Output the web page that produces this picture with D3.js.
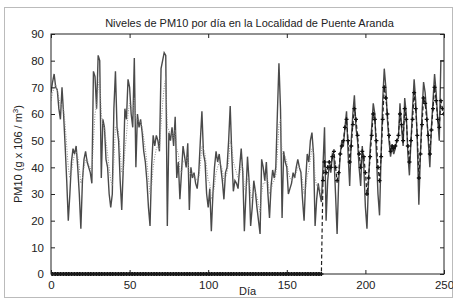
<!DOCTYPE html>
<html>
<head>
<meta charset="utf-8">
<script src="https://cdn.jsdelivr.net/npm/d3@7"></script>
<style>
  body { margin: 0; background: #fff; }
  svg { display: block; font-family: "Liberation Sans", Arial, sans-serif; }
</style>
</head>
<body>
<div id="chart"></div>
<script>
// measured PM10 per day, days 0..250
var measured = [
  68,72,75,70,69,62,58,70,60,48, 35,20,30,42,47,45,48,40,30,17,
  35,43,46,42,40,38,34,76,74,62, 82,80,36,58,55,43,40,30,25,30,
  62,76,55,50,35,24,40,62,58,73, 70,60,55,81,40,60,55,58,53,46,
  42,35,25,18,40,52,48,52,50,46, 77,80,83,82,18,53,50,55,48,59,
  36,42,28,38,48,44,40,49,24,40, 36,38,34,32,38,50,61,45,42,30,
  25,32,16,30,40,46,42,45,40,35, 28,38,40,50,63,45,31,35,34,32,
  40,47,38,16,30,44,35,18,25,35, 31,25,20,15,43,40,35,42,30,21,
  33,39,36,40,60,79,62,21,46,42, 40,30,32,34,38,36,40,43,40,38,
  28,20,35,45,42,50,53,45,18,28, 34,30,27,40,55,20,35,41,38,45,
  44,30,15,35,45,50,48,55,61,45, 33,50,60,67,55,50,40,33,48,40,
  25,17,35,47,55,64,60,45,30,22, 45,65,77,70,58,50,44,48,45,47,
  50,51,64,55,48,66,60,45,37,50, 62,73,65,50,26,45,60,72,68,60,
  50,40,55,65,75,68,58,50,80,80, 80
];

// fitted (dotted) series, days 0..172
var fitted = [
  65,68,70,71,69,66,63,64,62,56, 48,40,36,38,42,45,46,44,40,34,
  36,40,43,43,41,40,38,50,60,63, 70,74,60,56,55,50,45,40,35,33,
  42,55,56,53,46,38,38,46,52,60, 64,63,60,66,58,58,57,57,55,51,
  47,42,36,30,33,40,44,47,48,47, 56,64,70,74,55,54,52,53,51,54,
  47,45,39,38,42,43,42,44,37,38, 37,37,36,35,36,41,48,47,45,40,
  35,34,28,29,33,38,40,42,41,39, 35,36,38,42,50,48,42,40,38,36,
  37,41,40,32,31,36,36,30,28,31, 31,29,26,23,30,34,34,37,35,30,
  31,34,35,37,45,56,58,45,45,44, 42,38,36,35,36,36,38,40,40,39,
  35,30,32,37,39,43,47,46,36,33, 33,32,31
];

// forecast (dashed, + markers): zero until day 172, then days 173..250
var forecastStart = 173;
var forecastTail = [
  35,42,38,40,42,40,44,46,40,35, 38,45,48,50,55,58,50,42,48,56,
  62,58,52,45,40,46,44,38,30,36, 44,52,60,58,50,40,35,44,58,70,
  66,60,52,46,48,47,48,50,52,60, 56,50,62,58,48,42,50,58,68,62,
  52,36,45,56,66,64,58,52,45,54, 62,70,65,58,55,65,62,60
];

var xTicks = [0, 50, 100, 150, 200, 250];
var yTicks = [0, 10, 20, 30, 40, 50, 60, 70, 80, 90];

var W = 453, H = 298;
var margin = { left: 51, right: 9, top: 34, bottom: 24 };

var svg = d3.select("#chart").append("svg")
    .attr("width", W)
    .attr("height", H);

// figure frame
svg.append("rect")
    .attr("x", 4.5).attr("y", 7.5)
    .attr("width", W - 5).attr("height", H - 8)
    .attr("fill", "#fff")
    .attr("stroke", "#bbb");

var x = d3.scaleLinear().domain([0, 250]).range([margin.left, W - margin.right]);
var y = d3.scaleLinear().domain([0, 90]).range([H - margin.bottom, margin.top]);

svg.append("defs").append("clipPath").attr("id", "clip")
    .append("rect")
    .attr("x", x(0)).attr("y", y(90) - 3)
    .attr("width", x(250) - x(0)).attr("height", y(0) - y(90) + 6);

var line = d3.line()
    .x(function(d) { return x(d[0]); })
    .y(function(d) { return y(d[1]); });

var measuredPts = measured.map(function(v, i) { return [i, v]; });
var fittedPts = fitted.map(function(v, i) { return [i, v]; });
var forecastPts = [];
for (let i = 0; i < forecastStart; i++) forecastPts.push([i, 0]);
forecastTail.forEach(function(v, i) { forecastPts.push([forecastStart + i, v]); });

var plot = svg.append("g").attr("clip-path", "url(#clip)");

plot.append("path")
    .datum(measuredPts)
    .attr("d", line)
    .attr("fill", "none")
    .attr("stroke", "#4a4a4a")
    .attr("stroke-width", 1.4);

plot.append("path")
    .datum(fittedPts)
    .attr("d", line)
    .attr("fill", "none")
    .attr("stroke", "#888")
    .attr("stroke-width", 1)
    .attr("stroke-dasharray", "1,1.5");

plot.append("path")
    .datum(forecastPts)
    .attr("d", line)
    .attr("fill", "none")
    .attr("stroke", "#222")
    .attr("stroke-width", 1.2)
    .attr("stroke-dasharray", "4,2.5");

// + markers
plot.selectAll(".mk")
    .data(forecastPts)
    .enter().append("path")
    .attr("class", "mk")
    .attr("transform", function(d) { return "translate(" + x(d[0]) + "," + y(d[1]) + ")"; })
    .attr("d", function(d) { return d3.symbol().type(d3.symbolCross).size(d[1] === 0 ? 10 : 9)(); })
    .attr("fill", "#111");

// axes, MATLAB style box with inward ticks
var axisColor = "#222";
function styleAxis(g) {
    g.select(".domain").remove();
    g.selectAll("line").attr("stroke", axisColor);
    g.selectAll("text").attr("fill", "#222").style("font-size", "11.5px");
}

svg.append("g")
    .attr("transform", "translate(0," + y(0) + ")")
    .call(d3.axisBottom(x).tickValues(xTicks).tickSize(-4).tickPadding(7))
    .call(styleAxis);
svg.append("g")
    .attr("transform", "translate(0," + y(90) + ")")
    .call(d3.axisTop(x).tickValues(xTicks).tickSize(-4).tickFormat(""))
    .call(styleAxis);
svg.append("g")
    .attr("transform", "translate(" + x(0) + ",0)")
    .call(d3.axisLeft(y).tickValues(yTicks).tickSize(-4).tickPadding(7))
    .call(styleAxis);
svg.append("g")
    .attr("transform", "translate(" + x(250) + ",0)")
    .call(d3.axisRight(y).tickValues(yTicks).tickSize(-4).tickFormat(""))
    .call(styleAxis);

svg.append("rect")
    .attr("x", x(0)).attr("y", y(90))
    .attr("width", x(250) - x(0)).attr("height", y(0) - y(90))
    .attr("fill", "none")
    .attr("stroke", axisColor)
    .attr("stroke-width", 1);

// titles
svg.append("text")
    .attr("x", (x(0) + x(250)) / 2 + 2)
    .attr("y", 27)
    .attr("text-anchor", "middle")
    .style("font-size", "11px")
    .attr("fill", "#222")
    .text("Niveles de PM10 por día en la Localidad de Puente Aranda");

svg.append("text")
    .attr("x", (x(0) + x(250)) / 2)
    .attr("y", 295)
    .attr("text-anchor", "middle")
    .style("font-size", "11px")
    .attr("fill", "#222")
    .text("Día");

var yl = svg.append("text")
    .attr("transform", "translate(22," + ((y(0) + y(90)) / 2) + ") rotate(-90)")
    .attr("text-anchor", "middle")
    .style("font-size", "11px")
    .attr("fill", "#222");
yl.append("tspan").text("PM10 (g x 106 / m");
yl.append("tspan").attr("dy", -4).style("font-size", "8px").text("3");
yl.append("tspan").attr("dy", 4).text(")");
</script>
</body>
</html>
